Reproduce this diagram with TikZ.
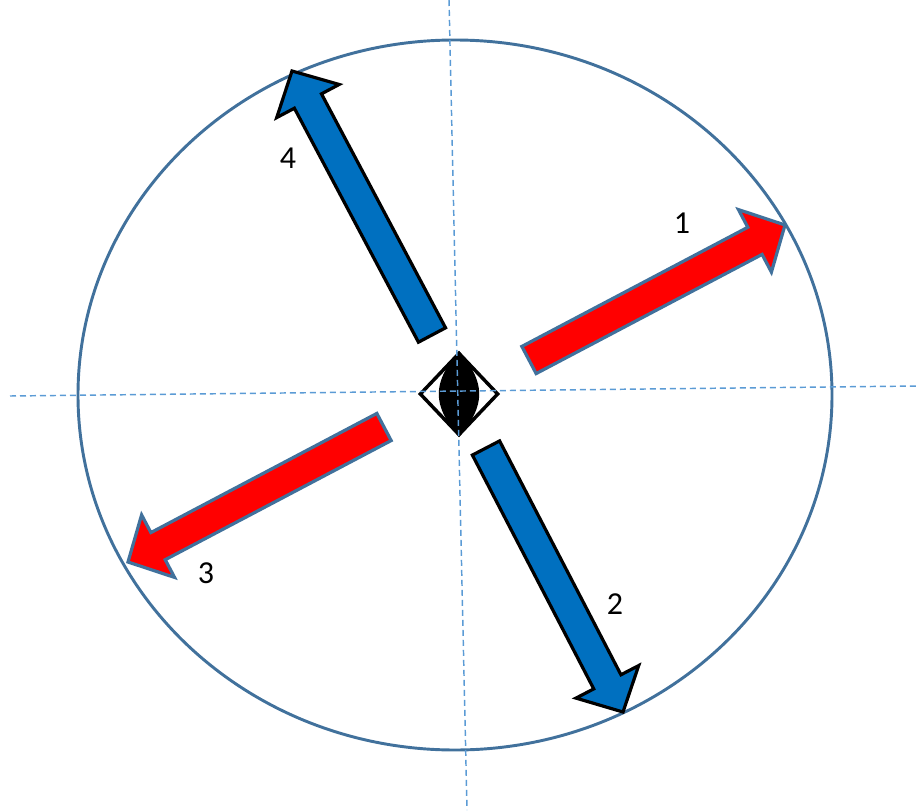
\documentclass[tikz,border=0pt]{standalone}
\usepackage{fontspec}
\setmainfont{Carlito}
\usetikzlibrary{calc, shapes.geometric}
\definecolor{rimblue}{HTML}{41719C}
\definecolor{axisblue}{HTML}{5B9BD5}
\definecolor{bladeblue}{HTML}{0070C0}
\definecolor{bladered}{HTML}{FF0000}

\begin{document}
\begin{tikzpicture}[x=0.75pt, y=-0.75pt, font=\fontsize{24}{28}\selectfont,
  rim/.style={draw=rimblue, line width=2.2pt},
  axis/.style={draw=axisblue, line width=1.1pt, dash pattern=on 4.5pt off 3pt},
  blade/.style={line width=2.4pt, line join=miter},
  hub/.style={diamond, draw=black, line width=2.6pt, inner sep=0pt, minimum width=59pt, minimum height=62pt},
  num/.style={inner sep=0pt}]
\useasboundingbox (0,0) rectangle (917,810);
\draw[rim] (455,395) ellipse [x radius=377, y radius=355];
% blade ends: tail and tip
\coordinate (t1) at (529,360); \coordinate (h1) at (785,225);
\coordinate (t2) at (486,448); \coordinate (h2) at (623,712);
\coordinate (t3) at (384,427); \coordinate (h3) at (128,562);
\coordinate (t4) at (432,335); \coordinate (h4) at (292,71);
\foreach \a/\b/\f/\o in {t1/h1/bladered/rimblue, t2/h2/bladeblue/black, t3/h3/bladered/rimblue, t4/h4/bladeblue/black}{
  \coordinate (m) at ($(\b)!25.5pt!(\a)$);
  \draw[blade, fill=\f, draw=\o] ($(\a)!11.5pt!90:(\b)$) -- ($(m)!11.5pt!90:(\b)$) -- ($(m)!26.5pt!90:(\b)$) -- (\b)
    -- ($(m)!26.5pt!-90:(\b)$) -- ($(m)!11.5pt!-90:(\b)$) -- ($(\a)!11.5pt!-90:(\b)$) -- cycle;
}
\node[num] (n1) at (682,223) {1};
\node[num] (n2) at (615,604) {2};
\node[num] (n3) at (206,573) {3};
\node[num] (n4) at (288,158) {4};
\node[hub] (c) at (459,394) {};
\fill (c.north) to[out=-130, in=130, looseness=1.25] (c.south) to[out=50, in=-50, looseness=1.25] (c.north);
\draw[axis] (10,396) -- (917,386);
\draw[axis] (449,0) -- (467,810);
\end{tikzpicture}
\end{document}
